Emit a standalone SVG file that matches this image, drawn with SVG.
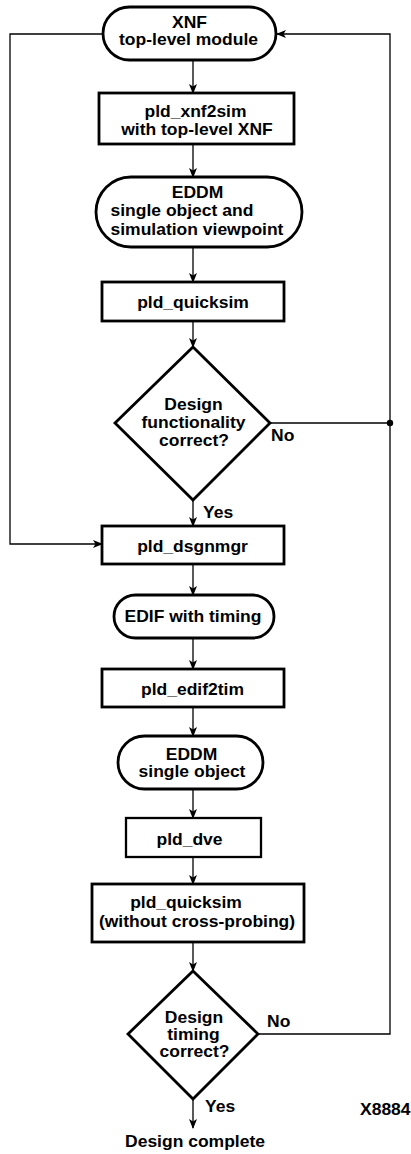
<svg xmlns="http://www.w3.org/2000/svg" width="411" height="1154" viewBox="0 0 411 1154">
<style>
.n{fill:#fff;stroke:#000;stroke-width:2.8}
.c{fill:none;stroke:#000;stroke-width:1.3}
text{font-family:"Liberation Sans",Arial,sans-serif;font-weight:bold;font-size:16.5px;fill:#000;text-anchor:middle}
.l{text-anchor:start}
</style>
<defs>
<marker id="a" markerUnits="userSpaceOnUse" markerWidth="10" markerHeight="8" refX="9" refY="4" orient="auto">
<path d="M0,0 L10,4 L0,8 L2.5,4 z" fill="#000"/>
</marker>
</defs>
<rect width="411" height="1154" fill="#fff"/>
<g id="connectors">
<path class="c" d="M193,60 V93" marker-end="url(#a)"/>
<path class="c" d="M193,144 V177" marker-end="url(#a)"/>
<path class="c" d="M193,247 V282" marker-end="url(#a)"/>
<path class="c" d="M193,321 V347" marker-end="url(#a)"/>
<path class="c" d="M193,500 V526" marker-end="url(#a)"/>
<path class="c" d="M193,564 V595" marker-end="url(#a)"/>
<path class="c" d="M193,638 V669" marker-end="url(#a)"/>
<path class="c" d="M193,707 V736" marker-end="url(#a)"/>
<path class="c" d="M193,789 V818" marker-end="url(#a)"/>
<path class="c" d="M193,857 V884" marker-end="url(#a)"/>
<path class="c" d="M193,942 V971" marker-end="url(#a)"/>
<path class="c" d="M193,1099 V1128" marker-end="url(#a)"/>
<path class="c" d="M103,34 H10 V544 H102" marker-end="url(#a)"/>
<path class="c" d="M258,1034 H390 V34 H277" marker-end="url(#a)"/>
<path class="c" d="M270,423 H390"/>
<circle cx="390" cy="423" r="3.2" fill="#000"/>
<text transform="translate(271,441) scale(1.06,1)" class="l">No</text>
<text transform="translate(203,518) scale(1.06,1)" class="l">Yes</text>
<text transform="translate(267,1027) scale(1.06,1)" class="l">No</text>
<text transform="translate(205,1112) scale(1.06,1)" class="l">Yes</text>
</g>
<g id="xnf">
<rect class="n" x="103" y="7" width="173" height="53" rx="26.5"/>
<text transform="translate(189.5,28) scale(1.06,1)">XNF</text>
<text transform="translate(188.5,45) scale(1.06,1)">top-level module</text>
</g>
<g id="xnf2sim">
<rect class="n" x="99" y="93" width="195" height="51"/>
<text transform="translate(195.5,117) scale(1.06,1)">pld_xnf2sim</text>
<text transform="translate(197,135) scale(1.06,1)">with top-level XNF</text>
</g>
<g id="eddm1">
<rect class="n" x="96" y="177" width="206" height="70" rx="35"/>
<text transform="translate(197.5,197.5) scale(1.06,1)">EDDM</text>
<text transform="translate(110.5,215.5) scale(1.06,1)" class="l">single object and</text>
<text transform="translate(110.5,235) scale(1.06,1)" class="l">simulation viewpoint</text>
</g>
<g id="quicksim1">
<rect class="n" x="102" y="282" width="182" height="39"/>
<text transform="translate(193,308) scale(1.06,1)">pld_quicksim</text>
</g>
<g id="decision1">
<polygon class="n" points="193,347 270,423 193,500 115,423"/>
<text transform="translate(193.5,410) scale(1.06,1)">Design</text>
<text transform="translate(193.5,428) scale(1.06,1)">functionality</text>
<text transform="translate(194,446) scale(1.06,1)">correct?</text>
</g>
<g id="dsgnmgr">
<rect class="n" x="102" y="526" width="182" height="38"/>
<text transform="translate(192.5,552) scale(1.06,1)">pld_dsgnmgr</text>
</g>
<g id="edif">
<rect class="n" x="114" y="595" width="160" height="43" rx="21.5"/>
<text transform="translate(193,622) scale(1.06,1)">EDIF with timing</text>
</g>
<g id="edif2tim">
<rect class="n" x="102" y="669" width="182" height="38"/>
<text transform="translate(192.5,695) scale(1.06,1)">pld_edif2tim</text>
</g>
<g id="eddm2">
<rect class="n" x="118" y="736" width="145" height="53" rx="26.5"/>
<text transform="translate(191.5,760) scale(1.06,1)">EDDM</text>
<text transform="translate(192,776.5) scale(1.06,1)">single object</text>
</g>
<g id="dve">
<rect class="n" x="126" y="818" width="135" height="39" style="stroke-width:2.3"/>
<text transform="translate(189.5,845) scale(1.06,1)">pld_dve</text>
</g>
<g id="quicksim2">
<rect class="n" x="92" y="884" width="212" height="58"/>
<text transform="translate(186,908) scale(1.06,1)">pld_quicksim</text>
<text transform="translate(197,926.5) scale(1.06,1)">(without cross-probing)</text>
</g>
<g id="decision2">
<polygon class="n" points="193,971 258,1034 193,1099 128,1034"/>
<text transform="translate(194,1023) scale(1.06,1)">Design</text>
<text transform="translate(193.5,1040) scale(1.06,1)">timing</text>
<text transform="translate(194.5,1057) scale(1.06,1)">correct?</text>
</g>
<g id="complete">
<text transform="translate(195,1147) scale(1.06,1)">Design complete</text>
</g>
<text transform="translate(360,1115) scale(1.06,1)" class="l">X8884</text>
</svg>
